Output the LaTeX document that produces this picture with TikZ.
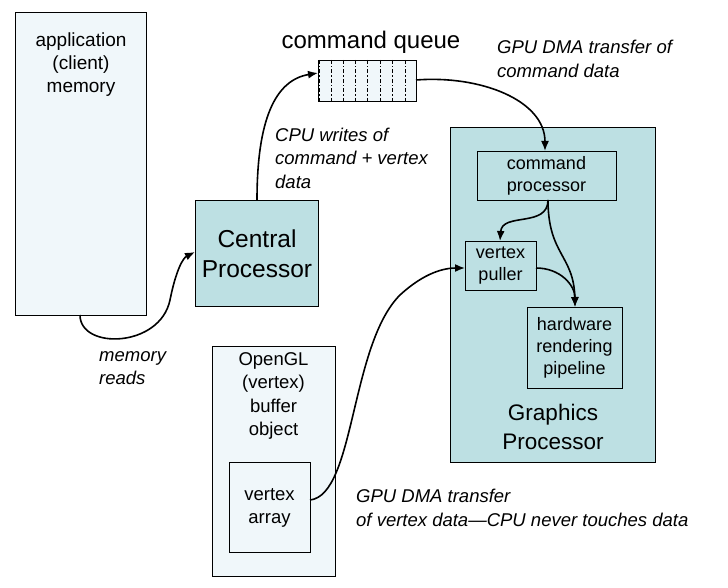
\documentclass[tikz,border=0pt]{standalone}
\usepackage{fontspec}
\setmainfont{Liberation Sans}
\usetikzlibrary{arrows.meta}
\definecolor{lightfill}{RGB}{240,247,250}
\definecolor{tealfill}{RGB}{189,224,227}
\tikzset{
  box/.style={draw=black, line width=0.8pt, inner sep=0pt, anchor=north west},
  lbox/.style={box, fill=lightfill},
  tbox/.style={box, fill=tealfill},
  txt/.style={align=center, inner sep=0pt, font=\fontsize{19}{23}\selectfont},
  bigtxt/.style={align=center, inner sep=0pt, font=\fontsize{23}{29}\selectfont},
  lab/.style={align=left, inner sep=0pt, anchor=west, font=\fontsize{18.5}{23.5}\selectfont\itshape},
  conn/.style={line width=1.6pt, -{Latex[length=10pt,width=8pt]}},
  qline/.style={line width=1pt, dash pattern=on 4pt off 2pt on 1.5pt off 2pt}
}
\begin{document}
\begin{tikzpicture}[x=1pt,y=-1pt]
\useasboundingbox (0,0) rectangle (728,588);
% application memory
\node[lbox, minimum width=131pt, minimum height=303pt] (app) at (15,12) {};
\node[txt] (apptxt) at (81,65) {application\\(client)\\memory};
% central processor
\node[tbox, minimum width=123pt, minimum height=106pt] (cpu) at (195,200) {};
\node[bigtxt, font=\fontsize{24.5}{30}\selectfont] (cputxt) at (257,254) {Central\\Processor};
% command queue
\node[txt, font=\fontsize{24}{28}\selectfont] (cqlab) at (371,42) {command queue};
\node[lbox, minimum width=98pt, minimum height=41pt] (queue) at (318,60) {};
\foreach \xx in {319,331,343,355,367,380,392,405}{
  \draw[qline] (\xx,60) -- (\xx,101);
}
% graphics processor
\node[tbox, minimum width=205pt, minimum height=335pt] (gpu) at (450,127) {};
\node[bigtxt, font=\fontsize{22.5}{29}\selectfont] (gputxt) at (553,427) {Graphics\\Processor};
\node[tbox, minimum width=139pt, minimum height=49pt] (cmdp) at (477,151) {};
\node[txt, font=\fontsize{18}{22}\selectfont] (cmdptxt) at (546.5,176) {command\\processor};
\node[tbox, minimum width=71pt, minimum height=49pt] (vpull) at (465,241) {};
\node[txt, font=\fontsize{18}{22}\selectfont] (vpulltxt) at (500.5,266) {vertex\\puller};
\node[tbox, minimum width=95pt, minimum height=81pt] (hw) at (527,307) {};
\node[txt, font=\fontsize{18}{22}\selectfont] (hwtxt) at (574.5,348) {hardware\\rendering\\pipeline};
% OpenGL buffer object
\node[lbox, minimum width=123pt, minimum height=230pt] (bo) at (212,346) {};
\node[txt, font=\fontsize{18.5}{23.3}\selectfont] (botxt) at (273.5,396) {OpenGL\\(vertex)\\buffer\\object};
\node[lbox, minimum width=81pt, minimum height=90pt] (va) at (229,462) {};
\node[txt, font=\fontsize{18.5}{23.3}\selectfont] (vatxt) at (269.5,508) {vertex\\array};
% labels
\node[lab] (l1) at (99,368) {memory\\reads};
\node[lab] (l2) at (275,158) {CPU writes of\\command + vertex\\data};
\node[lab] (l3) at (497,59) {GPU DMA transfer of\\command data};
\node[lab] (l4) at (356,508) {GPU DMA transfer\\of vertex data---CPU never touches data};
% coordinates
\coordinate (appout) at (80,315);
\coordinate (cpuin) at (195,252);
\coordinate (cpuout) at (257,200);
\coordinate (qin) at (318,73);
\coordinate (qout) at (416,80);
\coordinate (cmdin) at (545,151);
\coordinate (cmdout) at (548,200);
\coordinate (vpin) at (500,241);
\coordinate (vpl) at (465,268);
\coordinate (vpr) at (536,268);
\coordinate (hwin) at (575,307);
\coordinate (vaout) at (310,500);
% connectors
\draw[conn] (appout) .. controls (80,350) and (160,348) .. (170,300) .. controls (176,270) and (183,258) .. (cpuin);
\draw[conn] (cpuout) .. controls (257,120) and (275,80) .. (qin);
\draw[conn] (qout) .. controls (480,75) and (545,100) .. (cmdin);
\draw[conn] (cmdout) .. controls (548,228) and (502,212) .. (vpin);
\draw[conn] (cmdout) .. controls (548,255) and (574,255) .. (hwin);
\draw[conn] (vpr) .. controls (560,268) and (575,285) .. (hwin);
\draw[conn] (vaout) .. controls (355,495) and (350,345) .. (400,295) .. controls (425,272) and (445,268) .. (vpl);
\end{tikzpicture}
\end{document}
